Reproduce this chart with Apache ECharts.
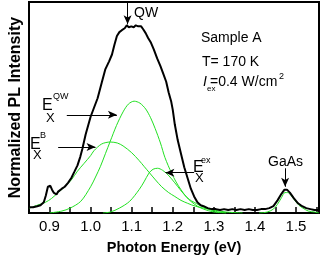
<!DOCTYPE html>
<html><head><meta charset="utf-8">
<script src="https://cdn.jsdelivr.net/npm/echarts@6/dist/echarts.min.js"></script>
<style>html,body{margin:0;padding:0;background:#fff}#c{width:321px;height:260px}</style>
</head><body><div id="c"></div>
<script>
// Photon energy (eV) / normalized intensity (arb.)
const totalPL = [
[0.851,6],[0.86,6],[0.87,7],[0.878,8],[0.886,11],[0.891,18],[0.896,27],[0.902,28],[0.906,24],[0.91,21],
[0.914,20],[0.917,19],[0.921,22],[0.925,24],[0.93,25],[0.937,27],[0.945,31],[0.953,36],[0.96,42],[0.968,49],
[0.975,58],[0.98,66],[0.988,81],[0.994,90],[1.0,99],[1.008,108],[1.017,118],[1.027,134],[1.036,148],[1.045,156],
[1.052,163],[1.058,173],[1.064,182],[1.07,186],[1.076,188],[1.083,190],[1.088,193],[1.093,191],[1.099,192],[1.105,191],
[1.11,193],[1.116,192],[1.123,192],[1.128,189],[1.134,185],[1.14,180],[1.147,175],[1.154,168],[1.162,159],[1.17,151],
[1.177,143],[1.184,135],[1.19,124],[1.196,115],[1.2,106],[1.205,91],[1.212,75],[1.22,61],[1.228,47],[1.236,36],
[1.244,25],[1.252,17],[1.26,11],[1.268,8],[1.275,7],[1.285,5],[1.295,4],[1.305,4],[1.315,3],[1.325,4],
[1.335,3],[1.345,4],[1.355,3],[1.365,4],[1.375,3],[1.385,4],[1.395,3],[1.405,3],[1.415,4],[1.425,4],
[1.435,5],[1.445,7],[1.455,13],[1.465,20],[1.472,24],[1.478,24],[1.485,21],[1.495,15],[1.505,10],[1.515,7],
[1.525,5],[1.535,4],[1.545,3],[1.556,3]
];
const fitB = [
[0.851,5],[0.87,8],[0.89,11],[0.905,15],[0.921,21],[0.937,27],[0.953,34],[0.968,43],[0.984,51],[1.0,59],
[1.008,64],[1.027,71],[1.048,73],[1.065,72],[1.079,69],[1.1,62],[1.118,54],[1.13,48],[1.142,42],[1.158,34],
[1.173,27],[1.19,21],[1.205,17],[1.22,13],[1.236,10],[1.255,7],[1.275,5],[1.3,3],[1.33,1],[1.37,0]
];
const fitQW = [
[0.9,0],[0.93,2],[0.95,5],[0.976,12],[1.0,27],[1.012,37],[1.024,48],[1.036,61],[1.048,74],[1.063,90],
[1.079,104],[1.092,112],[1.106,115],[1.12,113],[1.134,107],[1.146,98],[1.157,87],[1.17,72],[1.181,57],[1.197,41],
[1.208,32],[1.22,24],[1.232,17],[1.244,12],[1.26,7],[1.275,4],[1.3,1],[1.33,0]
];
const fitEx = [
[1.03,0],[1.048,1],[1.07,5],[1.095,12],[1.118,24],[1.13,32],[1.142,41],[1.152,45],[1.163,46],[1.175,44],
[1.189,39],[1.205,31],[1.218,24],[1.228,19],[1.24,14],[1.252,11],[1.265,8],[1.275,6],[1.3,2],[1.33,0]
];
const fitGaAs = [
[1.41,0],[1.43,1],[1.445,4],[1.455,9],[1.465,16],[1.473,21],[1.48,21],[1.488,18],[1.497,13],[1.507,8],
[1.517,5],[1.53,2],[1.545,1],[1.556,0]
];
// annotation arrows [from, to] in data coordinates
const arrows = [
  [[1.09,216],[1.09,194]],
  [[0.942,101],[1.064,101]],
  [[0.921,68],[1.012,68]],
  [[1.252,41.5],[1.182,41.5]],
  [[1.4735,46],[1.4735,27]]
];

const FONT = '"Liberation Sans", Arial, Helvetica, sans-serif';
const GREEN = '#22e022';
const chart = echarts.init(document.getElementById('c'), null, {renderer:'canvas'});
function txt(x, y, s, size, extra) {
  return {type:'text', z:100, style:{x:x, y:y, text:s, fill:'#000',
    font: (extra && extra.italic ? 'italic ' : '') + size + 'px ' + FONT, align:'left', verticalAlign:'middle'}};
}
const greenSeries = (d) => ({type:'line', data:d, showSymbol:false, smooth:0.3, lineStyle:{color:GREEN, width:1}, z:2});
chart.setOption({
  animation:false,
  grid:{left:21, right:2, top:2, bottom:41, show:true, borderColor:'#000', borderWidth:2, backgroundColor:'#fff'},
  xAxis:{type:'value', min:0.85, max:1.556, interval:0.05,
    axisLine:{lineStyle:{color:'#000', width:2}},
    axisTick:{inside:true, length:6, lineStyle:{color:'#000', width:1.5}},
    splitLine:{show:false},
    axisLabel:{color:'#000', fontSize:15, fontFamily:FONT, margin:6, showMaxLabel:false, showMinLabel:false,
      formatter:v => Math.abs(v*10 - Math.round(v*10)) < 1e-6 ? v.toFixed(1) : ''},
    name:'Photon Energy (eV)', nameLocation:'middle', nameGap:27,
    nameTextStyle:{color:'#000', fontSize:14.5, fontWeight:'bold', fontFamily:FONT}
  },
  yAxis:{type:'value', min:0, max:217,
    axisLine:{show:true, lineStyle:{color:'#000', width:2}},
    axisTick:{show:false}, axisLabel:{show:false}, splitLine:{show:false},
    name:'Normalized PL Intensity', nameLocation:'middle', nameGap:5,
    nameTextStyle:{color:'#000', fontSize:16, fontWeight:'bold', fontFamily:FONT}
  },
  series:[
    greenSeries(fitB), greenSeries(fitQW), greenSeries(fitEx), greenSeries(fitGaAs),
    {type:'line', data:totalPL, showSymbol:false, lineStyle:{color:'#000', width:2}, z:3,
      markLine:{silent:true, symbol:['none','arrow'], symbolSize:[6,9], label:{show:false},
        lineStyle:{color:'#000', width:1, type:'solid'},
        data: arrows.map(a => [{coord:a[0]},{coord:a[1]}])}
    }
  ],
  graphic:[
    txt(134,13,'QW',14),
    txt(201,38,'Sample A',14),
    txt(202,62,'T= 170 K',14),
    txt(203,82,'I',14,{italic:true}),
    txt(207,89,'ex',8),
    txt(210,82,'=0.4 W/cm',14),
    txt(279,77,'2',9),
    txt(42,106,'E',16),
    txt(53,97,'QW',9),
    txt(46,118,'X',13),
    txt(30,145,'E',16),
    txt(40,136,'B',9),
    txt(33,155,'X',13),
    txt(193,168,'E',16),
    txt(201,161,'ex',9),
    txt(195,178,'X',13),
    txt(268,162,'GaAs',14)
  ]
});
</script></body></html>
